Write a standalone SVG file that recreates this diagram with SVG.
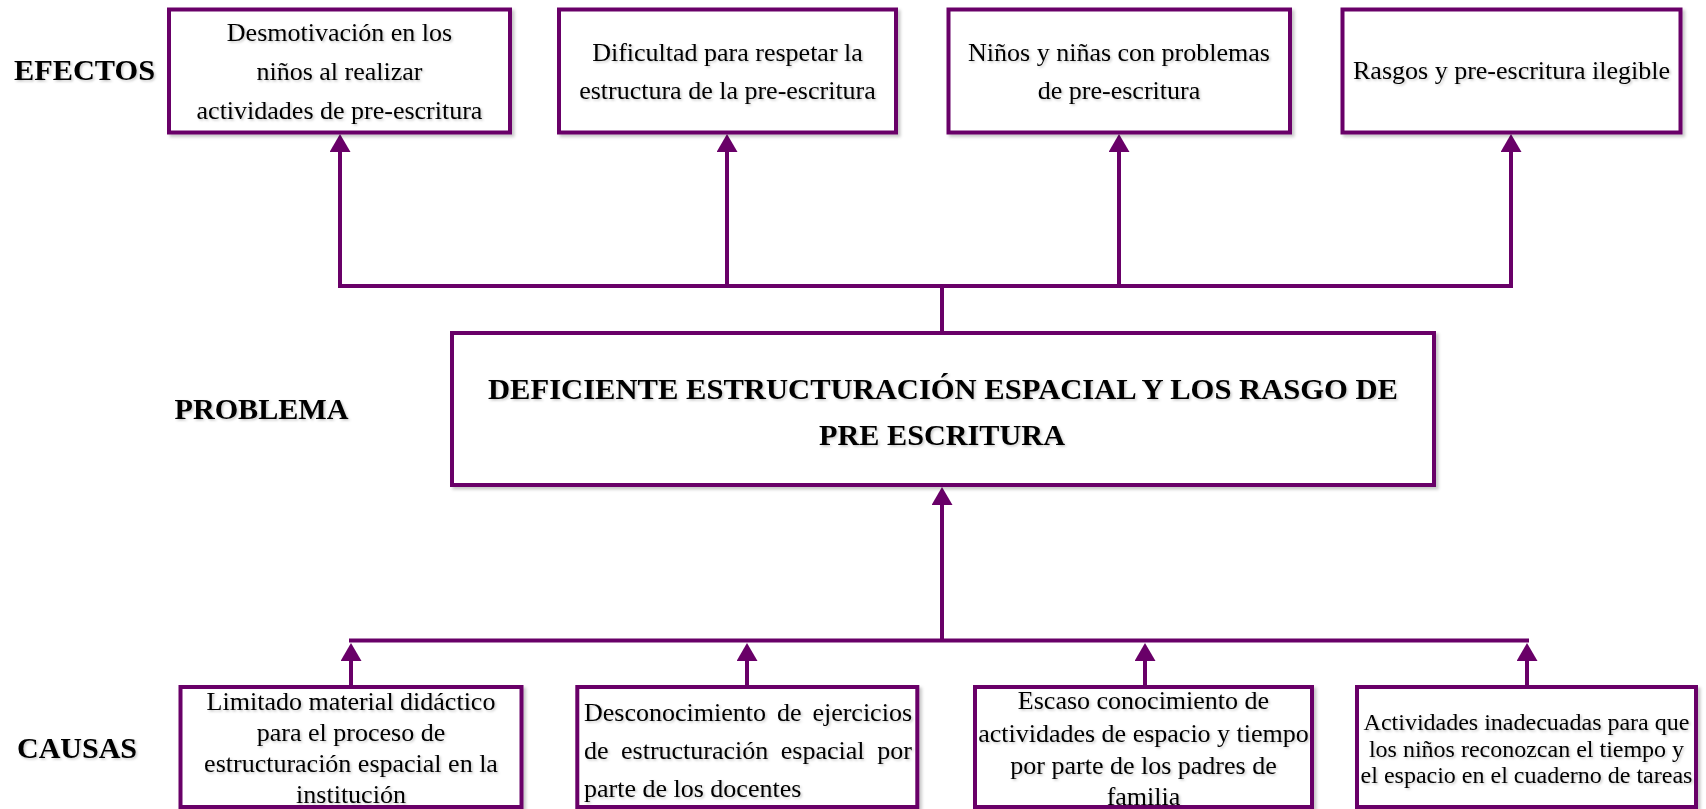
<svg xmlns="http://www.w3.org/2000/svg" width="1706" height="809" viewBox="0 0 1706 809">
<defs>
<style>
.box{fill:#ffffff;stroke:#690068;stroke-width:4;filter:url(#sh)}
.ln{fill:none;stroke:#690068;stroke-width:4;stroke-linecap:butt}
.hl{fill:none;stroke:#690068;stroke-width:4;stroke-linecap:square}
.t{font-family:"Liberation Serif","Times New Roman",serif;font-size:26px;fill:#000;filter:url(#tsh)}
.c{text-anchor:middle}
.b{font-weight:bold;font-size:30px}
.s{font-size:24px}
</style>
<filter id="sh" x="-5%" y="-5%" width="112%" height="115%">
<feDropShadow dx="2.5" dy="2.5" stdDeviation="1.5" flood-color="#000" flood-opacity="0.22"/>
</filter>
<filter id="tsh" x="-5%" y="-20%" width="112%" height="150%">
<feDropShadow dx="1.5" dy="1.5" stdDeviation="1" flood-color="#000" flood-opacity="0.22"/>
</filter>
<marker id="ar" viewBox="0 0 18 21" refX="0" refY="10.5" markerWidth="18" markerHeight="21" markerUnits="userSpaceOnUse" orient="auto">
<path d="M0,0 L18,10.5 L0,21 z" fill="#690068"/>
</marker>
</defs>
<rect width="1706" height="809" fill="#ffffff"/>

<g id="labels">
<text class="t b" x="14" y="80" textLength="141" lengthAdjust="spacingAndGlyphs">EFECTOS</text>
<text class="t b" x="174.5" y="418.5" textLength="174" lengthAdjust="spacingAndGlyphs">PROBLEMA</text>
<text class="t b" x="17" y="758" textLength="120" lengthAdjust="spacingAndGlyphs">CAUSAS</text>
</g>

<g id="connectors">
<line class="ln" x1="942" y1="333" x2="942" y2="286"/>
<line class="hl" x1="340" y1="286" x2="1511" y2="286"/>
<line class="ln" x1="340" y1="286" x2="340" y2="152" marker-end="url(#ar)"/>
<line class="ln" x1="727" y1="286" x2="727" y2="152" marker-end="url(#ar)"/>
<line class="ln" x1="1119" y1="286" x2="1119" y2="152" marker-end="url(#ar)"/>
<line class="ln" x1="1511" y1="286" x2="1511" y2="152" marker-end="url(#ar)"/>
<line class="ln" x1="942" y1="640.5" x2="942" y2="505" marker-end="url(#ar)"/>
<line class="hl" x1="351" y1="640.5" x2="1527" y2="640.5"/>
<line class="ln" x1="351" y1="685" x2="351" y2="661" marker-end="url(#ar)"/>
<line class="ln" x1="747" y1="685" x2="747" y2="661" marker-end="url(#ar)"/>
<line class="ln" x1="1145" y1="685" x2="1145" y2="661" marker-end="url(#ar)"/>
<line class="ln" x1="1527" y1="685" x2="1527" y2="661" marker-end="url(#ar)"/>
</g>

<g id="efecto1">
<rect class="box" x="169" y="9.5" width="341" height="123"/>
<text class="t c" x="339.5" y="41">Desmotivación en los</text>
<text class="t c" x="339.5" y="80">niños al realizar</text>
<text class="t c" x="339.5" y="118.5">actividades de pre-escritura</text>
</g>
<g id="efecto2">
<rect class="box" x="559" y="9.5" width="337" height="123"/>
<text class="t c" x="727.5" y="60.5">Dificultad para respetar la</text>
<text class="t c" x="727.5" y="99">estructura de la pre-escritura</text>
</g>
<g id="efecto3">
<rect class="box" x="948.5" y="9.5" width="341.5" height="123"/>
<text class="t c" x="1119" y="60.5">Niños y niñas con problemas</text>
<text class="t c" x="1119" y="99">de pre-escritura</text>
</g>
<g id="efecto4">
<rect class="box" x="1342.5" y="9.5" width="338" height="123"/>
<text class="t c" x="1511.5" y="78.5">Rasgos y pre-escritura ilegible</text>
</g>

<g id="problema">
<rect class="box" x="452" y="333" width="982" height="152"/>
<text class="t c b" x="943" y="398.5" textLength="910" lengthAdjust="spacingAndGlyphs">DEFICIENTE ESTRUCTURACIÓN ESPACIAL Y LOS RASGO DE</text>
<text class="t c b" x="942" y="445" textLength="246" lengthAdjust="spacingAndGlyphs">PRE ESCRITURA</text>
</g>

<g id="causa1">
<rect class="box" x="180.5" y="687" width="341" height="120"/>
<text class="t c" x="351" y="710">Limitado material didáctico</text>
<text class="t c" x="351" y="741">para el proceso de</text>
<text class="t c" x="351" y="772">estructuración espacial en la</text>
<text class="t c" x="351" y="803">institución</text>
</g>
<g id="causa2">
<rect class="box" x="577.3" y="687" width="340" height="120"/>
<text class="t" y="721"><tspan x="584">Desconocimiento</tspan><tspan x="777">de</tspan><tspan x="912" text-anchor="end">ejercicios</tspan></text>
<text class="t" y="758.5"><tspan x="584">de</tspan><tspan x="621">estructuración</tspan><tspan x="780.8">espacial</tspan><tspan x="912" text-anchor="end">por</tspan></text>
<text class="t" x="584" y="796.5">parte de los docentes</text>
</g>
<g id="causa3">
<rect class="box" x="975" y="687" width="337" height="120"/>
<text class="t c" x="1143.5" y="709">Escaso conocimiento de</text>
<text class="t c" x="1143.5" y="741.5">actividades de espacio y tiempo</text>
<text class="t c" x="1143.5" y="773.5">por parte de los padres de</text>
<text class="t c" x="1143.5" y="805">familia</text>
</g>
<g id="causa4">
<rect class="box" x="1357" y="687" width="339" height="120"/>
<text class="t c s" x="1526.5" y="729.5">Actividades inadecuadas para que</text>
<text class="t c s" x="1526.5" y="756.5">los niños reconozcan el tiempo y</text>
<text class="t c s" x="1526.5" y="783">el espacio en el cuaderno de tareas</text>
</g>
</svg>
